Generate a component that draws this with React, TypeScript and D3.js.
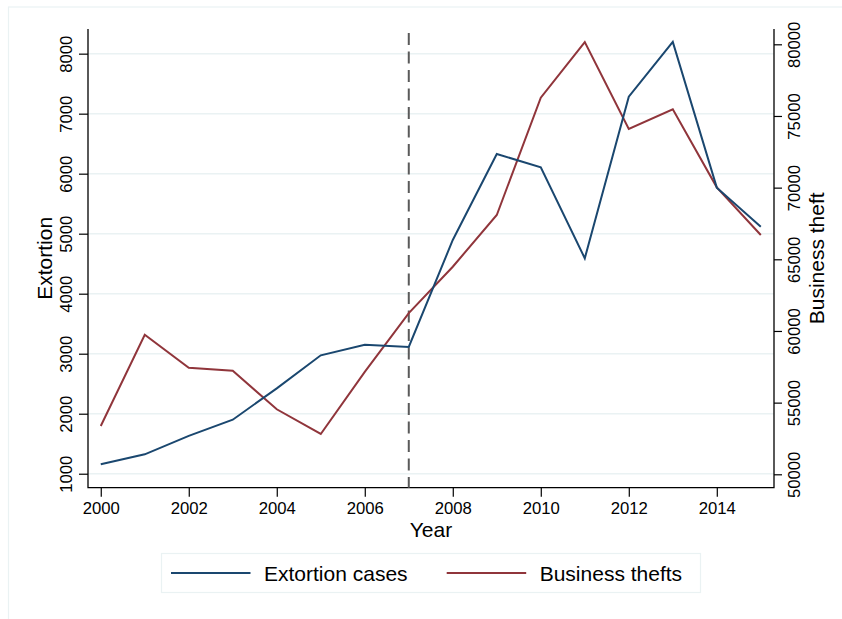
import React, { FC, useEffect, useRef } from "react";
import * as d3 from "d3";

// Years and series
const years = [2000, 2001, 2002, 2003, 2004, 2005, 2006, 2007, 2008, 2009, 2010, 2011, 2012, 2013, 2014, 2015];
const extortion = [1157, 1323, 1630, 1900, 2423, 2973, 3150, 3112, 4895, 6328, 6107, 4590, 7283, 8195, 5767, 5117];
const businessThefts = [53370, 59740, 57437, 57228, 54535, 52812, 57150, 61250, 64483, 68090, 76277, 80160, 74093, 75465, 70023, 66695];

const xTicks = [2000, 2002, 2004, 2006, 2008, 2010, 2012, 2014];
const leftTicks = [1000, 2000, 3000, 4000, 5000, 6000, 7000, 8000];
const rightTicks = [50000, 55000, 60000, 65000, 70000, 75000, 80000];
const breakYear = 2007;

const BLUE = "#1a476f";
const RED = "#90353b";
const GRID = "#eaf2f3";
const FONT = "'Liberation Sans', Arial, Helvetica, sans-serif";

const App: FC = () => {
    const svgRef = useRef<SVGSVGElement>(null);

    useEffect(() => {
        if (!svgRef.current) return;
        const svg = d3.select(svgRef.current);
        svg.selectAll("*").remove();

        const left = 88, right = 774, top = 29, bottom = 487.7;

        const x = d3.scaleLinear().domain([1999.71, 2015.3]).range([left, right]);
        const yL = d3.scaleLinear().domain([767, 8411]).range([bottom, top]);
        const yR = d3.scaleLinear().domain([49065, 81068]).range([bottom, top]);

        // outer frame
        svg.append("rect")
            .attr("x", 8.5).attr("y", 7)
            .attr("width", 1000).attr("height", 1000)
            .attr("fill", "white")
            .attr("stroke", GRID)
            .attr("stroke-width", 1.2);

        // gridlines
        svg.append("g")
            .selectAll("line")
            .data(leftTicks)
            .enter()
            .append("line")
            .attr("x1", left).attr("x2", right)
            .attr("y1", d => yL(d)).attr("y2", d => yL(d))
            .attr("stroke", GRID)
            .attr("stroke-width", 1.5);

        // left axis
        const gL = svg.append("g").attr("transform", `translate(${left},0)`)
            .call(d3.axisLeft(yL).tickValues(leftTicks).tickSize(9).tickSizeOuter(0).tickFormat(d => String(d)));
        gL.select(".domain").remove();
        gL.selectAll("line").attr("stroke", "#000").attr("stroke-width", 1.2);
        gL.selectAll("text")
            .attr("x", null).attr("dy", null)
            .attr("text-anchor", "middle")
            .attr("transform", d => `translate(-16,0) rotate(-90)`)
            .style("font-family", FONT)
            .style("font-size", "16.7px")
            .style("fill", "#000");

        // right axis
        const gR = svg.append("g").attr("transform", `translate(${right},0)`)
            .call(d3.axisRight(yR).tickValues(rightTicks).tickSize(8).tickSizeOuter(0).tickFormat(d => String(d)));
        gR.select(".domain").remove();
        gR.selectAll("line").attr("stroke", "#000").attr("stroke-width", 1.2);
        gR.selectAll("text")
            .attr("x", null).attr("dy", null)
            .attr("text-anchor", "middle")
            .attr("transform", `translate(26,0) rotate(-90)`)
            .style("font-family", FONT)
            .style("font-size", "16.7px")
            .style("fill", "#000");

        // bottom axis
        const gB = svg.append("g").attr("transform", `translate(0,${bottom})`)
            .call(d3.axisBottom(x).tickValues(xTicks).tickSize(9).tickSizeOuter(0).tickFormat(d => String(d)));
        gB.select(".domain").remove();
        gB.selectAll("line").attr("stroke", "#000").attr("stroke-width", 1.2);
        gB.selectAll("text")
            .attr("y", 26.6).attr("dy", null)
            .style("font-family", FONT)
            .style("font-size", "16.7px")
            .style("fill", "#000");

        // axis lines
        const axisPath = `M${left},${top}V${bottom}H${right}V${top}`;
        svg.append("path")
            .attr("d", axisPath)
            .attr("fill", "none")
            .attr("stroke", "#000")
            .attr("stroke-width", 1.3);

        // break line
        svg.append("line")
            .attr("x1", x(breakYear)).attr("x2", x(breakYear))
            .attr("y1", 33).attr("y2", bottom)
            .attr("stroke", "#5a5a5a")
            .attr("stroke-width", 2)
            .attr("stroke-dasharray", "12,6.5");

        // series
        const lineL = d3.line<number>().x((_, i) => x(years[i])).y(d => yL(d));
        const lineR = d3.line<number>().x((_, i) => x(years[i])).y(d => yR(d));

        svg.append("path")
            .datum(businessThefts)
            .attr("d", lineR)
            .attr("fill", "none")
            .attr("stroke", RED)
            .attr("stroke-width", 2);

        svg.append("path")
            .datum(extortion)
            .attr("d", lineL)
            .attr("fill", "none")
            .attr("stroke", BLUE)
            .attr("stroke-width", 2);

        // axis titles
        svg.append("text")
            .attr("transform", `translate(51.5,${(top + bottom) / 2}) rotate(-90)`)
            .attr("text-anchor", "middle")
            .style("font-family", FONT)
            .style("font-size", "21px")
            .text("Extortion");

        svg.append("text")
            .attr("transform", `translate(824,${(top + bottom) / 2}) rotate(-90)`)
            .attr("text-anchor", "middle")
            .style("font-family", FONT)
            .style("font-size", "21px")
            .text("Business theft");

        svg.append("text")
            .attr("x", (left + right) / 2)
            .attr("y", 537)
            .attr("text-anchor", "middle")
            .style("font-family", FONT)
            .style("font-size", "21px")
            .text("Year");

        // legend
        const legend = svg.append("g");
        legend.append("rect")
            .attr("x", 161.5).attr("y", 553.5)
            .attr("width", 539).attr("height", 39)
            .attr("fill", "white")
            .attr("stroke", GRID)
            .attr("stroke-width", 1.2);

        const items = [
            { label: "Extortion cases", color: BLUE, x0: 171 },
            { label: "Business thefts", color: RED, x0: 446.7 },
        ];
        items.forEach(it => {
            legend.append("line")
                .attr("x1", it.x0).attr("x2", it.x0 + 79.5)
                .attr("y1", 573).attr("y2", 573)
                .attr("stroke", it.color)
                .attr("stroke-width", 2);
            legend.append("text")
                .attr("x", it.x0 + 93)
                .attr("y", 581)
                .style("font-family", FONT)
                .style("font-size", "21px")
                .text(it.label);
        });
    }, []);

    return (
        <svg
            ref={svgRef}
            width={842}
            height={619}
            style={{ position: "absolute", left: 0, top: 0, background: "white" }}
        ></svg>
    );
};

export default App;
